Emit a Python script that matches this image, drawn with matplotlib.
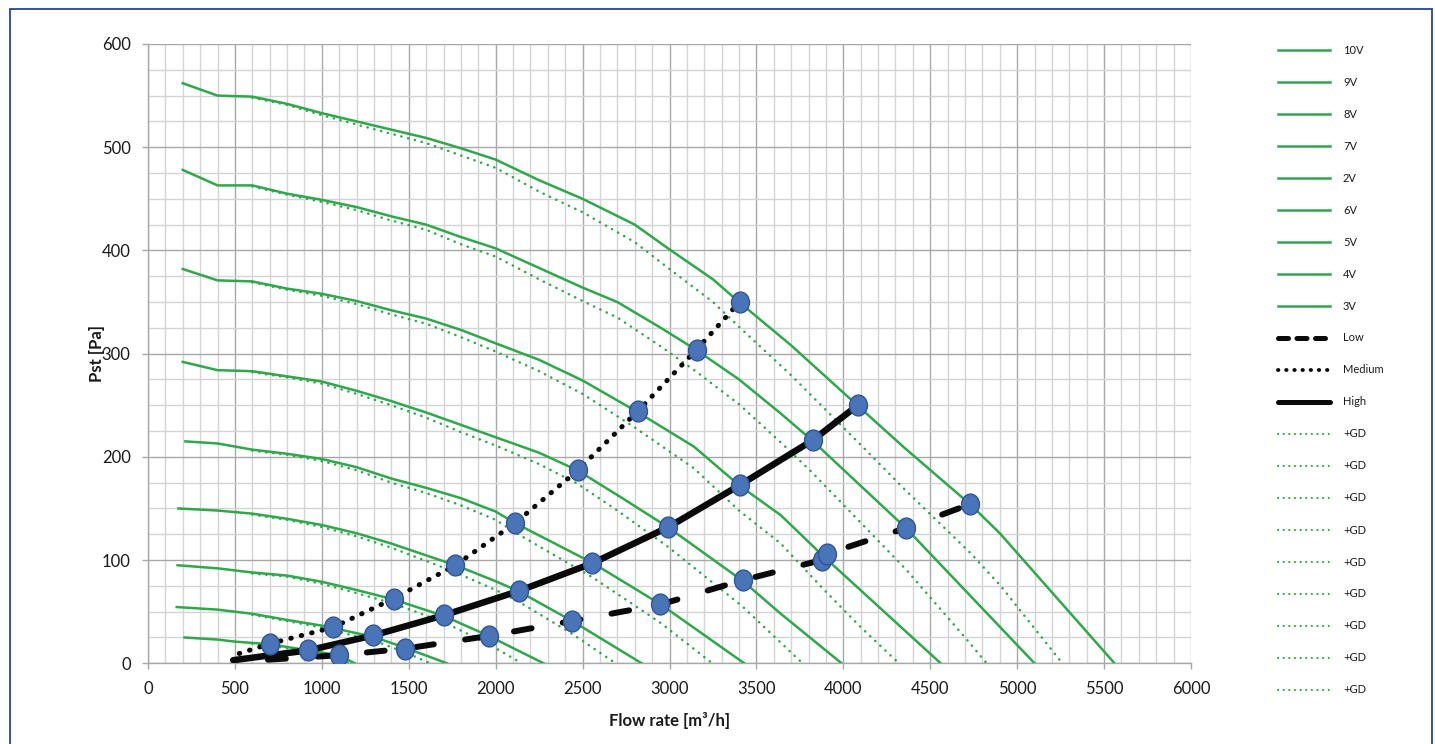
import matplotlib
matplotlib.use("Agg")
import matplotlib.pyplot as plt
from matplotlib.lines import Line2D
from matplotlib.patches import Rectangle
from matplotlib.path import Path
from matplotlib.ticker import MultipleLocator

plt.rcParams['font.family'] = ['Lato', 'DejaVu Sans']

# ---- fan curves: flow rate [m3/h] and static pressure [Pa] per control voltage ----
flow_10V = [200, 400, 600, 800, 1000, 1200, 1400, 1600, 1800, 2000, 2250, 2500, 2800, 3000, 3250, 3400, 3700, 4080, 4350, 4730, 4900, 5560]
pst_10V = [562, 550, 549, 542, 533, 525, 517, 509, 499, 488, 468, 450, 425, 401, 372, 350, 308, 250, 209, 154, 126, 0]

flow_9V = [200, 400, 600, 800, 1000, 1200, 1400, 1600, 1800, 2000, 2250, 2500, 2700, 2950, 3150, 3400, 3640, 3820, 4360, 5100]
pst_9V = [478, 463, 463, 455, 449, 442, 433, 425, 413, 402, 383, 364, 350, 325, 304, 275, 242, 216, 131, 0]

flow_8V = [200, 400, 600, 800, 1000, 1200, 1400, 1600, 1800, 2000, 2250, 2500, 2800, 3140, 3400, 3640, 3890, 4560]
pst_8V = [382, 371, 370, 363, 358, 351, 342, 334, 323, 310, 294, 274, 245, 210, 172.5, 143.5, 103, 0]

flow_7V = [200, 400, 600, 800, 1000, 1200, 1400, 1600, 1800, 2000, 2250, 2470, 2700, 2990, 3420, 3640, 3990]
pst_7V = [292, 284, 283, 278, 273, 264, 254, 243, 231, 219, 204, 187, 163, 132, 80, 48, 0]

flow_2V = [210, 400, 500, 700, 920, 1095, 1190]
pst_2V = [25, 23, 21, 18.5, 12.6, 7.8, 0]

flow_6V = [215, 400, 600, 800, 1000, 1200, 1400, 1600, 1800, 2000, 2110, 2560, 2950, 3430]
pst_6V = [215, 213, 207, 203, 198, 190, 179, 170, 160, 147, 136, 97, 57, 0]

flow_5V = [175, 400, 600, 800, 1000, 1200, 1400, 1680, 1770, 2000, 2130, 2440, 2840]
pst_5V = [150, 148, 145, 140, 134, 126, 116, 100, 95, 79.5, 70, 41, 0]

flow_4V = [170, 400, 600, 800, 1000, 1200, 1410, 1700, 1960, 2276]
pst_4V = [95, 92, 88, 85, 79, 71, 62, 46, 26.5, 0]

flow_3V = [165, 400, 600, 800, 1000, 1300, 1480, 1720]
pst_3V = [54.5, 52, 48, 42, 36.5, 25.5, 15, 0]

# ---- the same curves with the grille/damper (+GD) fitted ----
gd_flow_10V = [600, 800, 1000, 1200, 1400, 1600, 1800, 2000, 2250, 2500, 2800, 3000, 3250, 3400, 3700, 4080, 4350, 4730, 4900, 5260]
gd_pst_10V = [548, 541, 531, 522, 513, 504, 492, 480, 457, 437, 408, 382, 350, 326, 279, 215, 169, 107, 76, 0]

gd_flow_9V = [600, 800, 1000, 1200, 1400, 1600, 1800, 2000, 2250, 2500, 2700, 2950, 3150, 3400, 3640, 3820, 4360, 4700, 4825]
gd_pst_9V = [462, 454, 447, 439, 429, 420, 406, 394, 372, 351, 335, 307, 283, 251, 214, 185, 91, 25, 0]

gd_flow_8V = [600, 800, 1000, 1200, 1400, 1600, 1800, 2000, 2250, 2500, 2800, 3140, 3400, 3640, 3890, 4100, 4320]
gd_pst_8V = [369, 362, 356, 348, 338, 329, 316, 302, 283, 261, 228.5, 189, 148, 116, 71, 35, 0]

gd_flow_7V = [600, 800, 1000, 1200, 1400, 1600, 1800, 2000, 2250, 2470, 2700, 2990, 3420, 3640, 3765]
gd_pst_7V = [282, 277, 271, 261, 250, 238, 224, 211, 193, 174, 148, 113, 55, 20, 0]

gd_flow_6V = [600, 800, 1000, 1200, 1400, 1600, 1800, 2000, 2110, 2560, 2950, 3246]
gd_pst_6V = [206, 202, 196, 187, 175, 165, 153, 139, 127, 83, 39, 0]

gd_flow_5V = [600, 800, 1000, 1200, 1400, 1680, 1770, 2000, 2130, 2440, 2690]
gd_pst_5V = [144, 139, 132, 123, 112, 94, 88, 71, 60, 28.5, 0]

gd_flow_4V = [600, 800, 1000, 1200, 1410, 1700, 1960, 2150]
gd_pst_4V = [87, 84, 77, 68, 58, 40, 18.5, 0]

gd_flow_3V = [600, 800, 1000, 1300, 1480, 1625]
gd_pst_3V = [47, 41, 34.5, 22, 10.5, 0]

gd_flow_2V = [600, 700, 920, 1095, 1155]
gd_pst_2V = [19, 17.5, 10.8, 5.3, 0]

# ---- system curves with their duty points ----
low_flow = [690, 1096, 1480, 1960, 2440, 2948, 3420, 3875, 3904, 4359, 4727]
low_pst = [3.5, 7.8, 14.2, 26.5, 41, 57, 80.5, 100, 106, 131, 154]

medium_flow = [525, 702, 1067, 1413, 1768, 2113, 2472, 2816, 3156, 3403]
medium_pst = [9.5, 19, 35, 62.7, 95, 136, 187, 244, 304, 350]

high_flow = [490, 923, 1297, 1701, 2132, 2557, 2994, 3403, 3823, 4083]
high_pst = [3, 12.6, 27, 46.5, 70, 97, 132, 172.5, 216, 250]

voltage_labels = ['10V', '9V', '8V', '7V', '2V', '6V', '5V', '4V', '3V']
fan_curves = [(flow_10V, pst_10V), (flow_9V, pst_9V), (flow_8V, pst_8V), (flow_7V, pst_7V),
              (flow_2V, pst_2V), (flow_6V, pst_6V), (flow_5V, pst_5V), (flow_4V, pst_4V),
              (flow_3V, pst_3V)]
gd_curves = [(gd_flow_10V, gd_pst_10V), (gd_flow_9V, gd_pst_9V), (gd_flow_8V, gd_pst_8V),
             (gd_flow_7V, gd_pst_7V), (gd_flow_2V, gd_pst_2V), (gd_flow_6V, gd_pst_6V),
             (gd_flow_5V, gd_pst_5V), (gd_flow_4V, gd_pst_4V), (gd_flow_3V, gd_pst_3V)]

GREEN = '#2EA84A'
BLUE_FILL = '#4A74B8'
BLUE_EDGE = '#2F5597'

W, H = 1435, 744
fig = plt.figure(figsize=(W / 100, H / 100), dpi=100)
ax = fig.add_axes([148 / W, 1 - 663.3 / H, (1191 - 148) / W, (663.3 - 44) / H])

# grid
ax.set_xlim(0, 6000)
ax.set_ylim(0, 600)
ax.xaxis.set_major_locator(MultipleLocator(500))
ax.xaxis.set_minor_locator(MultipleLocator(100))
ax.yaxis.set_major_locator(MultipleLocator(100))
ax.yaxis.set_minor_locator(MultipleLocator(25))
ax.grid(which='minor', color='#D4D4D4', linewidth=1.0, zorder=0)
ax.grid(which='major', color='#A8A8A8', linewidth=1.0, zorder=0)
ax.set_axisbelow(True)
for side in ('top', 'right'):
    ax.spines[side].set_visible(False)
for side in ('left', 'bottom'):
    ax.spines[side].set_color('#A8A8A8')
    ax.spines[side].set_linewidth(1.0)
ax.tick_params(which='major', length=4.5, width=1.0, color='#A8A8A8',
               labelsize=12, labelcolor='#1A1A1A', pad=8)
ax.tick_params(which='minor', length=0)

# fan curves
for fx, fy in fan_curves:
    ax.plot(fx, fy, color=GREEN, linewidth=1.8, solid_joinstyle='round', zorder=3)
for gx, gy in gd_curves:
    ax.plot(gx, gy, color=GREEN, linewidth=1.8, linestyle=(0, (0.1, 2.7)),
            dash_capstyle='round', zorder=3)

# system curves
ax.plot(low_flow, low_pst, color='#0A0A0A', linewidth=4.3, linestyle=(0, (3.0, 5.3)),
        dash_capstyle='round', zorder=4)
ax.plot(medium_flow, medium_pst, color='#0A0A0A', linewidth=3.6, linestyle=(0, (0.1, 2.05)),
        dash_capstyle='round', zorder=4)
ax.plot(high_flow, high_pst, color='#0A0A0A', linewidth=4.7, solid_capstyle='round',
        solid_joinstyle='round', zorder=4)

# duty points
circ = Path.unit_circle()
ellipse = Path(circ.vertices * [0.86, 1.0], circ.codes)
duty_flow = low_flow[1:] + medium_flow[1:] + high_flow[1:]
duty_pst = low_pst[1:] + medium_pst[1:] + high_pst[1:]
ax.plot(duty_flow, duty_pst, linestyle='none', marker=ellipse, markersize=15,
        markerfacecolor=BLUE_FILL, markeredgecolor=BLUE_EDGE, markeredgewidth=1.0, zorder=6)

ax.set_xlabel('Flow rate [m³/h]', fontsize=12, fontweight='bold', color='#1A1A1A', labelpad=11)
ax.set_ylabel('Pst [Pa]', fontsize=12, fontweight='bold', color='#1A1A1A', labelpad=-2)

# legend
handles = []
for _ in voltage_labels:
    handles.append(Line2D([], [], color=GREEN, linewidth=1.8))
handles.append(Line2D([], [], color='#0A0A0A', linewidth=3.6, linestyle=(0, (2.0, 1.7)),
                      dash_capstyle='round'))
handles.append(Line2D([], [], color='#0A0A0A', linewidth=2.8, linestyle=(0, (0.1, 2.0)),
                      dash_capstyle='round'))
handles.append(Line2D([], [], color='#0A0A0A', linewidth=3.6, solid_capstyle='round'))
for _ in voltage_labels:
    handles.append(Line2D([], [], color=GREEN, linewidth=1.5, linestyle=(0, (0.1, 2.6)),
                          dash_capstyle='round'))
labels = voltage_labels + ['Low', 'Medium', 'High'] + ['+GD'] * len(voltage_labels)

fig.legend(handles, labels, loc='upper left', bbox_to_anchor=(1278 / W, 1 - 44.5 / H),
           frameon=False, fontsize=8, handlelength=4.68, handletextpad=1.17,
           labelspacing=1.89, borderpad=0, borderaxespad=0, labelcolor='#1A1A1A')

# outer frame of the chart area
fig.patches.append(Rectangle((10 / W, -0.02), (1432 - 10) / W, 1.02 - 9 / H,
                             transform=fig.transFigure, fill=False,
                             edgecolor='#23449A', linewidth=1.3))

fig.savefig('out.png', dpi=100)
